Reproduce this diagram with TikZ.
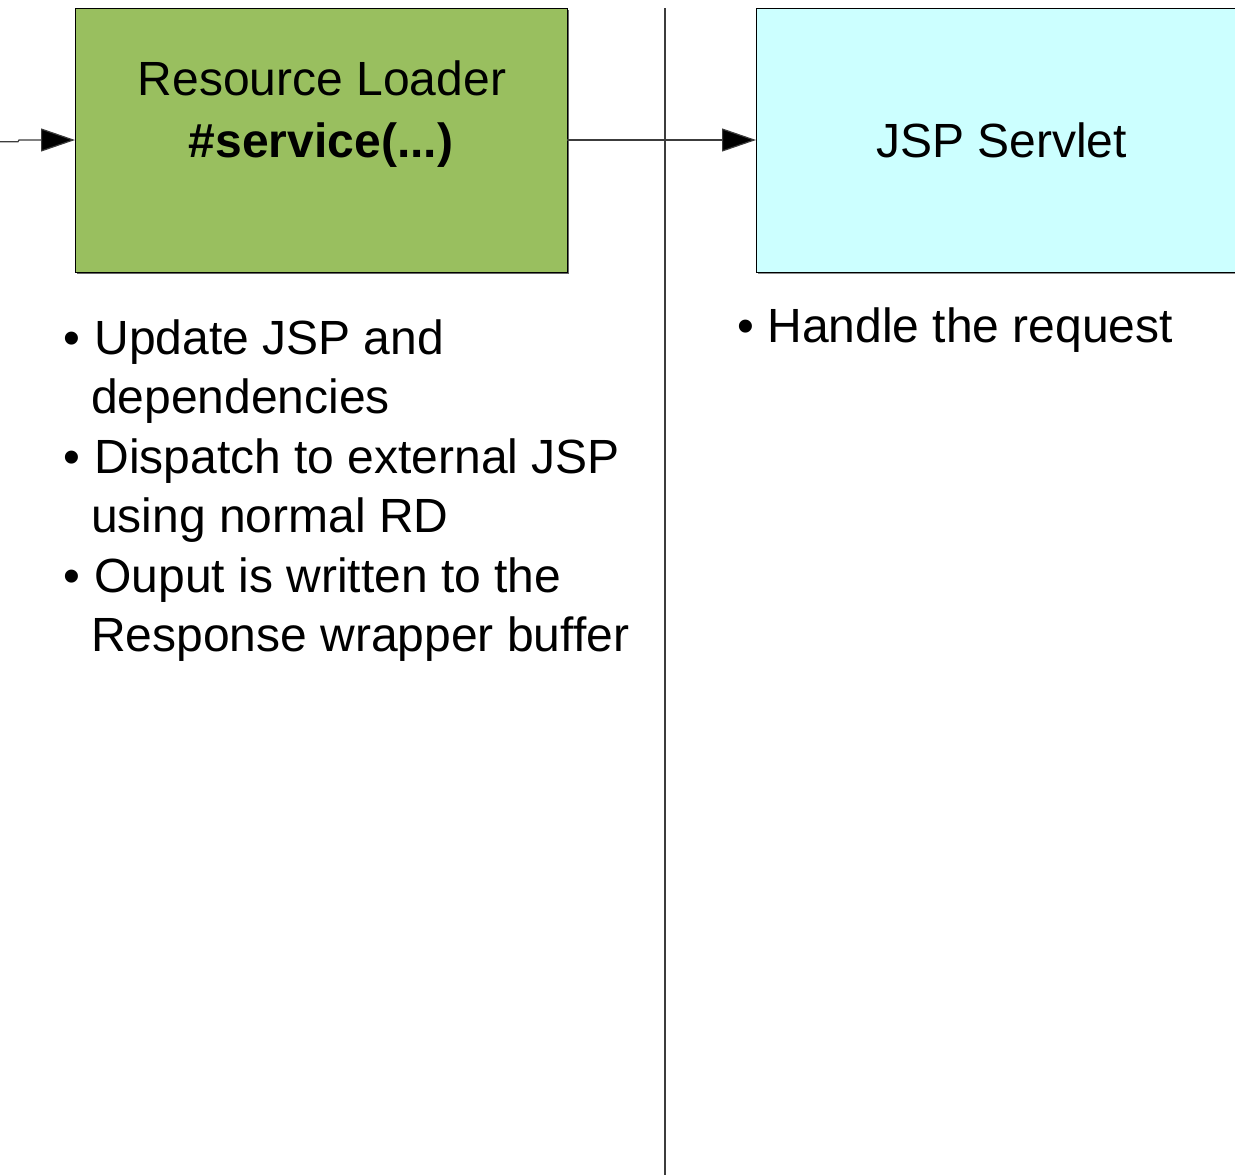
\documentclass[tikz,border=0pt]{standalone}
\usepackage{fontspec}
\setmainfont{Liberation Sans}
\usetikzlibrary{arrows.meta}
\definecolor{loadergreen}{RGB}{153,191,95}
\definecolor{servletcyan}{RGB}{204,255,255}
\definecolor{edgegray}{RGB}{60,60,60}
\begin{document}
\begin{tikzpicture}[x=1pt,y=-1pt,
  every node/.style={inner sep=0pt, outer sep=0pt, font=\fontsize{48}{59.5}\selectfont},
  stagebox/.style={draw=black, line width=1pt},
  flow/.style={draw=edgegray, line width=1.2pt, -{Triangle[length=34pt,width=23pt,fill=black]}},
  bulletline/.style={anchor=base west},
  divider/.style={draw=edgegray, line width=1.2pt}]
  \useasboundingbox (0,0) rectangle (1235,1175);
  \clip (0,0) rectangle (1235,1175);

  % processing stages
  \fill[black!60] (76.5,9.5) rectangle (568.5,273.5);
  \node[stagebox, fill=loadergreen, minimum width=492pt, minimum height=264pt, anchor=north west] (loader) at (75,8) {};
  \fill[black!45] (757.5,9.5) rectangle (1245,273.5);
  \node[stagebox, fill=servletcyan, minimum width=490pt, minimum height=264pt, anchor=north west] (servlet) at (756,8) {};

  % box titles
  \node[anchor=base] (loadertitle) at (322,95) {Resource Loader};
  \node[anchor=base, font=\fontsize{48}{59.5}\selectfont\bfseries] (loadercall) at (321,157) {\#service(...)};
  \node[anchor=base] (servlettitle) at (1001.5,157) {JSP Servlet};

  % divider between the two columns
  \coordinate (divtop) at (665,8);
  \coordinate (divbottom) at (665,1176);
  \draw[divider] (divtop) -- (divbottom);

  % connectors
  \coordinate (entry) at (0,141.7);
  \coordinate (entrystep) at (18,141.7);
  \coordinate (entryrise) at (19,140);
  \draw[flow] (entry) -- (entrystep) -- (entryrise) -- (loader.west);
  \draw[flow] (loader.east) -- (servlet.west);

  % notes under the resource loader
  \node[bulletline] (b1) at (63.8,354) {•};
  \node[bulletline] (l1) at (94.5,354) {Update JSP and};
  \node[bulletline] (l2) at (91,413.5) {dependencies};
  \node[bulletline] (b2) at (63.8,473) {•};
  \node[bulletline] (l3) at (94.5,473) {Dispatch to external JSP};
  \node[bulletline] (l4) at (91,532.5) {using normal RD};
  \node[bulletline] (b3) at (63.8,592) {•};
  \node[bulletline] (l5) at (94.5,592) {Ouput is written to the};
  \node[bulletline] (l6) at (91,651.5) {Response wrapper buffer};

  % notes under the servlet
  \node[bulletline] (b4) at (737.5,342) {•};
  \node[bulletline] (r1) at (767.5,342) {Handle the request};
\end{tikzpicture}
\end{document}
